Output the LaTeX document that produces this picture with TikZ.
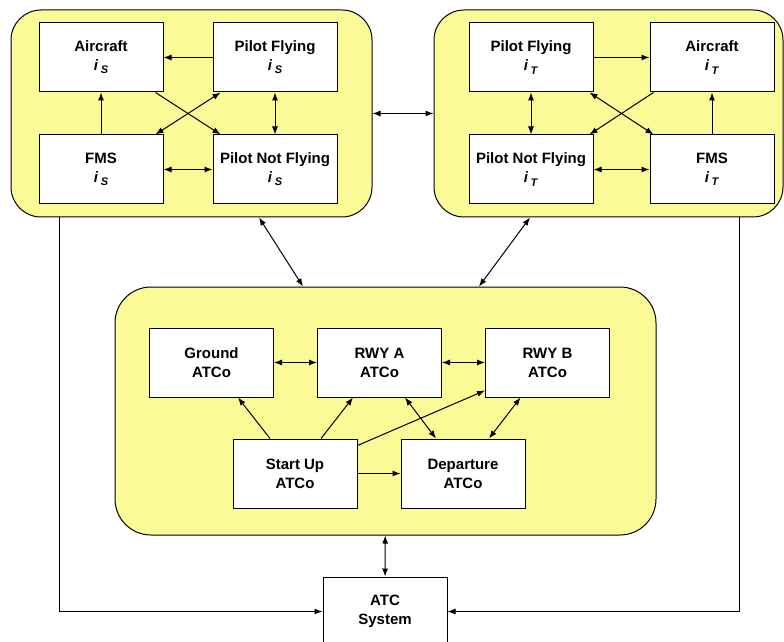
\documentclass[tikz,border=0pt]{standalone}
\usepackage{fontspec}
\setmainfont{Liberation Sans}
\usetikzlibrary{arrows.meta,positioning}
\definecolor{grpyellow}{RGB}{250,250,150}
\newcommand{\idx}[1]{\textit{i}\,\raisebox{-0.4ex}{\fontsize{11}{11}\selectfont\textit{#1}}}
\tikzset{
    %Define standard arrow tip
    >={Latex[length=8pt,width=6pt]},
    %Define style for the yellow groups
    grp/.style={
           rectangle,
           rounded corners=30pt,
           draw=black, line width=1pt,
           fill=grpyellow,
           inner sep=0pt},
    %Define style for boxes
    box/.style={
           rectangle,
           draw=black, line width=1pt,
           fill=white,
           minimum width=124pt,
           minimum height=69pt,
           inner sep=0pt,
           align=center,
           font=\bfseries\fontsize{15}{19}\selectfont},
    % Define arrow style
    pil/.style={
           line width=1pt,
           shorten <=0pt,
           shorten >=0pt}
}
\begin{document}
\begin{tikzpicture}[x=1pt,y=1pt,node distance=42pt]
\useasboundingbox (0,0) rectangle (784,641);
 %groups
\node[grp, minimum width=361pt, minimum height=207pt] (lgrp) at (191.5,527.5) {};
\node[grp, minimum width=349pt, minimum height=207pt] (rgrp) at (608.5,527.5) {};
\node[grp, rounded corners=36pt, minimum width=541pt, minimum height=248pt] (bgrp) at (385.5,230) {};

 %source aircraft
\node[box] (acS) at (101,583.5) {Aircraft\\\idx{S}};
\node[box, right=49pt of acS] (pfS) {Pilot Flying\\\idx{S}};
\node[box, below=of acS] (fmsS) {FMS\\\idx{S}};
\node[box, below=of pfS] (pnfS) {Pilot Not Flying\\\idx{S}};

 %target aircraft
\node[box] (pfT) at (531,583.5) {Pilot Flying\\\idx{T}};
\node[box, right=56pt of pfT] (acT) {Aircraft\\\idx{T}};
\node[box, below=of pfT] (pnfT) {Pilot Not Flying\\\idx{T}};
\node[box, below=of acT] (fmsT) {FMS\\\idx{T}};

 %controllers
\node[box] (gnd) at (211.5,278.5) {Ground\\ATCo};
\node[box, right=43pt of gnd] (rwya) {RWY A\\ATCo};
\node[box, right=43pt of rwya] (rwyb) {RWY B\\ATCo};
\node[box] (su) at (295,167.5) {Start Up\\ATCo};
\node[box, right=43pt of su] (dep) {Departure\\ATCo};

\node[box] (atc) at (385,29.5) {ATC\\System};

\coordinate (lline) at (59,0);
\coordinate (rline) at (739,0);

\path[pil]
    (pfS) edge[->] (acS)
    (fmsS) edge[->] (acS)
    ([xshift=-8pt]acS.south east) edge[->] ([xshift=8pt]pnfS.north west)
    ([xshift=-8pt]fmsS.north east) edge[<->] ([xshift=8pt]pfS.south west)
    (pfS) edge[<->] (pnfS)
    (fmsS) edge[<->] (pnfS);

\path[pil]
    (pfT) edge[->] (acT)
    (fmsT) edge[->] (acT)
    ([xshift=4pt]acT.south west) edge[->] ([xshift=-4pt]pnfT.north east)
    ([xshift=-4pt]pfT.south east) edge[<->] ([xshift=4pt]fmsT.north west)
    (pfT) edge[<->] (pnfT)
    (pnfT) edge[<->] (fmsT);

\path[pil]
    (gnd) edge[<->] (rwya)
    (rwya) edge[<->] (rwyb)
    ([xshift=-25pt]su.north) edge[->] ([xshift=26.5pt]gnd.south)
    ([xshift=26pt]su.north) edge[->] ([xshift=-26.5pt]rwya.south)
    ([yshift=-7pt]su.north east) edge[->] ([yshift=7pt]rwyb.south west)
    ([xshift=25.5pt]rwya.south) edge[<->] ([xshift=-27pt]dep.north)
    ([xshift=-27pt]rwyb.south) edge[<->] ([xshift=26pt]dep.north)
    (su) edge[->] (dep);

\path[pil]
    (lgrp) edge[<->] (rgrp)
    ([xshift=67.5pt]lgrp.south) edge[<->] ([xshift=-82.5pt]bgrp.north)
    ([xshift=-78.5pt]rgrp.south) edge[<->] ([xshift=93.5pt]bgrp.north)
    (bgrp) edge[<->] (atc);

\draw[pil,->] (lgrp.south -| lline) |- (atc.west);
\draw[pil,->] (rgrp.south -| rline) |- (atc.east);
\end{tikzpicture}
\end{document}
